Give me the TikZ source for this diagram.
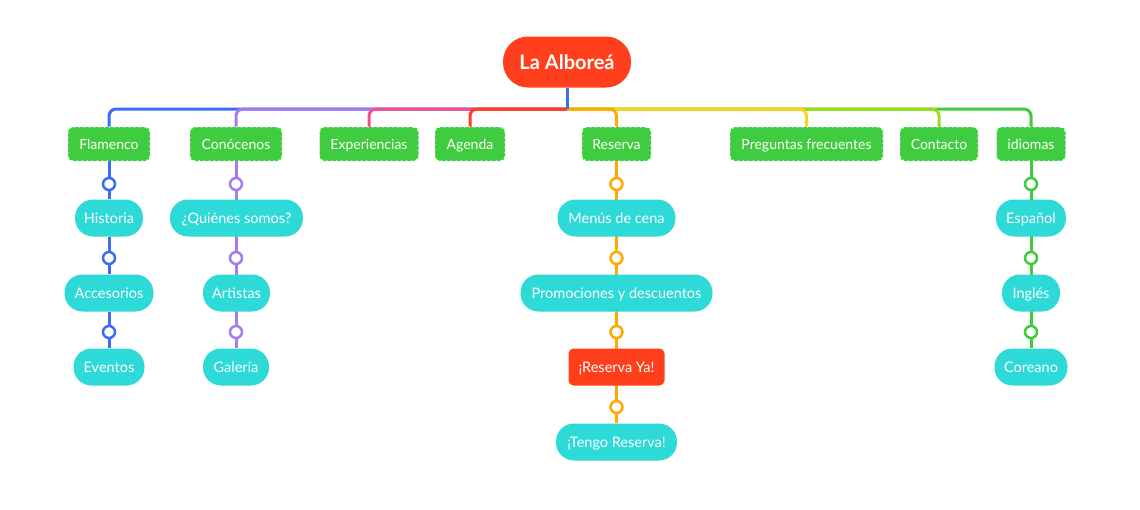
\documentclass[tikz,border=0pt]{standalone}
\usepackage{fontspec}
\setmainfont{Lato}
\usetikzlibrary{backgrounds}
\definecolor{cblue}{HTML}{3D6DF2}
\definecolor{cpurple}{HTML}{A67CEF}
\definecolor{cpink}{HTML}{F5508A}
\definecolor{cred}{HTML}{FF3F1C}
\definecolor{corange}{HTML}{FFA800}
\definecolor{cyellow}{HTML}{FFD024}
\definecolor{clime}{HTML}{9CDC14}
\definecolor{cgreen}{HTML}{3ECB3C}
\definecolor{ccyan}{HTML}{2DDAD8}
\definecolor{boxgreen}{HTML}{40CC40}
\tikzset{
  rootbox/.style={fill=cred, text=white, rounded corners=25pt, minimum width=128pt, minimum height=51pt, inner sep=0pt, text height=16pt, text depth=2pt, font=\fontsize{20}{23}\selectfont\bfseries},
  mainbox/.style={fill=boxgreen, text=white, rounded corners=5pt, minimum height=34pt, minimum width=#1, inner sep=0pt, text height=12.5pt, text depth=2.5pt, font=\fontsize{14}{17}\selectfont,
    postaction={draw=white, line width=1.3pt, dash pattern=on 1.1pt off 3.9pt}},
  subbox/.style={fill=ccyan, text=white, rounded corners=18pt, minimum height=37pt, minimum width=#1, inner sep=0pt, text height=12.5pt, text depth=2.5pt, font=\fontsize{14.5}{17}\selectfont},
  redbox/.style={fill=cred, text=white, rounded corners=5pt, minimum height=37pt, minimum width=#1, inner sep=0pt, text height=12.5pt, text depth=2.5pt, font=\fontsize{14.5}{17}\selectfont},
  dot/.style={circle, draw=#1, fill=white, line width=2.5pt, minimum size=12pt, inner sep=0pt},
  link/.style={draw=#1, line width=3pt, rounded corners=7pt},
}
\begin{document}
\begin{tikzpicture}[x=1pt,y=-1pt]
\useasboundingbox (0,0) rectangle (1140,509);
\begin{scope}[on background layer]
\fill[white] (0,0) rectangle (1140,509);
\end{scope}
% root
\node[rootbox] (root) at (567,62) {La Alboreá};
\coordinate (hub) at (567,109);
% main branches
\node[mainbox=82pt]  (fl) at (109,144) {Flamenco};
\node[mainbox=92pt]  (co) at (236,144) {Conócenos};
\node[mainbox=99pt]  (ex) at (369,144) {Experiencias};
\node[mainbox=70pt]  (ag) at (470,144) {Agenda};
\node[mainbox=69pt]  (rs) at (616.5,144) {Reserva};
\node[mainbox=153pt] (pf) at (806.5,144) {Preguntas frecuentes};
\node[mainbox=78pt]  (ct) at (939,144) {Contacto};
\node[mainbox=69pt]  (id) at (1031,144) {idiomas};
% Flamenco column
\node[dot=cblue] (fd1) at (109,184) {};
\node[subbox=68pt] (hi) at (109,218) {Historia};
\node[dot=cblue] (fd2) at (109,258) {};
\node[subbox=89pt] (ac) at (109,293) {Accesorios};
\node[dot=cblue] (fd3) at (109,332) {};
\node[subbox=71pt] (ev) at (109,367) {Eventos};
% Conocenos column
\node[dot=cpurple] (cd1) at (236,184) {};
\node[subbox=133pt] (qs) at (236.5,218) {¿Quiénes somos?};
\node[dot=cpurple] (cd2) at (236,258) {};
\node[subbox=67pt] (ar) at (236.5,293) {Artistas};
\node[dot=cpurple] (cd3) at (236,332) {};
\node[subbox=66pt] (ga) at (236,367) {Galería};
% Reserva column
\node[dot=corange] (rd1) at (616.5,184) {};
\node[subbox=118pt] (mc) at (616.5,218) {Menús de cena};
\node[dot=corange] (rd2) at (616.5,258) {};
\node[subbox=192pt] (pr) at (616.5,293) {Promociones y descuentos};
\node[dot=corange] (rd3) at (616.5,332) {};
\node[redbox=96pt] (ry) at (616.5,367) {¡Reserva Ya!};
\node[dot=corange] (rd4) at (616.5,407) {};
\node[subbox=121pt] (tr) at (616.5,442) {¡Tengo Reserva!};
% idiomas column
\node[dot=cgreen] (id1) at (1031,184) {};
\node[subbox=70pt] (es) at (1031,218) {Español};
\node[dot=cgreen] (id2) at (1031,258) {};
\node[subbox=58pt] (in) at (1031,293) {Inglés};
\node[dot=cgreen] (id3) at (1031,332) {};
\node[subbox=73pt] (cr) at (1031,367) {Coreano};
% connectors
\begin{scope}[on background layer]
\draw[link=cblue]   (hub) -| (fl.north);
\draw[link=cpurple] (hub) -| (co.north);
\draw[link=cpink]   (hub) -| (ex.north);
\draw[link=cred]    (hub) -| (ag.north);
\draw[link=cgreen]  (hub) -| (id.north);
\draw[link=clime]   (hub) -| (ct.north);
\draw[link=cyellow] (hub) -| (pf.north);
\draw[link=corange] (hub) -| (rs.north);
\draw[link=cblue]   (root.south) -- (hub);
\draw[link=cblue]   (fl) -- (fd1) -- (hi) -- (fd2) -- (ac) -- (fd3) -- (ev);
\draw[link=cpurple] (co) -- (cd1) -- (cd2) -- (cd3) -- (ga);
\draw[link=corange] (rs) -- (rd1) -- (rd2) -- (rd3) -- (rd4) -- (tr);
\draw[link=cgreen]  (id) -- (id1) -- (id2) -- (id3) -- (cr);
\end{scope}
\end{tikzpicture}
\end{document}
